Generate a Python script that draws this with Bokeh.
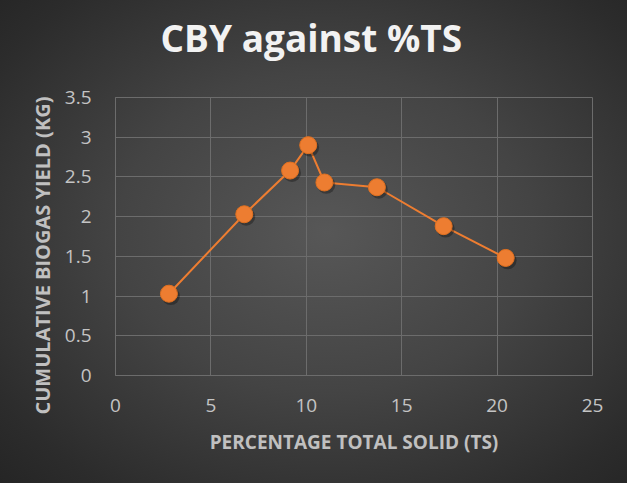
from bokeh.plotting import figure
from bokeh.models import Title, Range1d, FixedTicker, ColumnDataSource
from bokeh.transform import dodge
from bokeh.embed import file_html
from bokeh.resources import INLINE

# Data
ts = [2.8, 6.75, 9.15, 10.1, 10.95, 13.7, 17.2, 20.45]
cby = [1.03, 2.03, 2.58, 2.90, 2.43, 2.37, 1.88, 1.48]
x_ticks = [0, 5, 10, 15, 20, 25]
y_ticks = [0, 0.5, 1, 1.5, 2, 2.5, 3, 3.5]
y_tick_labels = ["0", "0.5", "1", "1.5", "2", "2.5", "3", "3.5"]
title_text = "CBY against %TS"
x_title = "PERCENTAGE TOTAL SOLID (TS)"
y_title = "CUMULATIVE BIOGAS YIELD (KG)"

FONT = "Open Sans"
GRID = "#6c6c6c"
ORANGE = "#ED7D31"
TICK_COLOR = "#c4c4c4"
LABEL_COLOR = "#c0c0c0"

source = ColumnDataSource(dict(ts=ts, cby=cby))

p = figure(width=627, height=483, output_backend="svg", toolbar_location=None,
           x_range=Range1d(x_ticks[0], x_ticks[-1]), y_range=Range1d(y_ticks[0], y_ticks[-1]),
           min_border_left=115, min_border_right=35, min_border_top=97, min_border_bottom=108)

p.styles = {"background": "radial-gradient(ellipse at 52% 48%, #575757 0%, #444444 45%, #2c2c2c 85%, #252525 100%)"}
p.border_fill_alpha = 0
p.background_fill_alpha = 0
p.outline_line_color = GRID
p.outline_line_width = 1

p.xaxis.ticker = FixedTicker(ticks=x_ticks)
p.yaxis.ticker = FixedTicker(ticks=y_ticks)
p.yaxis.major_label_overrides = {t: l for t, l in zip(y_ticks, y_tick_labels)}
p.xgrid.grid_line_color = GRID
p.ygrid.grid_line_color = GRID

for ax in (p.xaxis, p.yaxis):
    ax.axis_line_color = GRID
    ax.major_tick_line_color = None
    ax.minor_tick_line_color = None
    ax.major_tick_out = 0
    ax.major_tick_in = 0
    ax.major_label_text_font = FONT
    ax.major_label_text_font_size = "19px"
    ax.major_label_text_color = TICK_COLOR

p.xaxis.major_label_standoff = 23
p.yaxis.major_label_standoff = 24

p.xaxis.axis_label = x_title
p.xaxis.axis_label_text_font = FONT
p.xaxis.axis_label_text_font_size = "19px"
p.xaxis.axis_label_text_font_style = "bold"
p.xaxis.axis_label_text_color = LABEL_COLOR
p.xaxis.axis_label_standoff = 14

p.line("ts", "cby", source=source, line_color=ORANGE, line_width=2)
p.scatter(dodge("ts", 0.1), dodge("cby", -0.03), source=source, size=18,
          fill_color="black", fill_alpha=0.3, line_color=None)
p.scatter("ts", "cby", source=source, size=17, fill_color=ORANGE, line_color="#e07020", line_width=1)

# Chart title
p.title.text = title_text
p.title.text_font = FONT
p.title.text_font_size = "37px"
p.title.text_font_style = "bold"
p.title.text_color = "#f2f2f2"
p.title.align = "left"
p.title.vertical_align = "bottom"
p.title.offset = 45
p.title.standoff = 0

# spacer between title and plot area
p.add_layout(Title(text=" ", text_font_size="10px", standoff=22), "above")

# Vertical axis title
p.add_layout(Title(text=y_title, align="left", offset=-39, standoff=11,
                   text_font=FONT, text_font_size="20px", text_font_style="bold",
                   text_color=LABEL_COLOR), "left")

open("out.html", "w").write(file_html(p, INLINE))
